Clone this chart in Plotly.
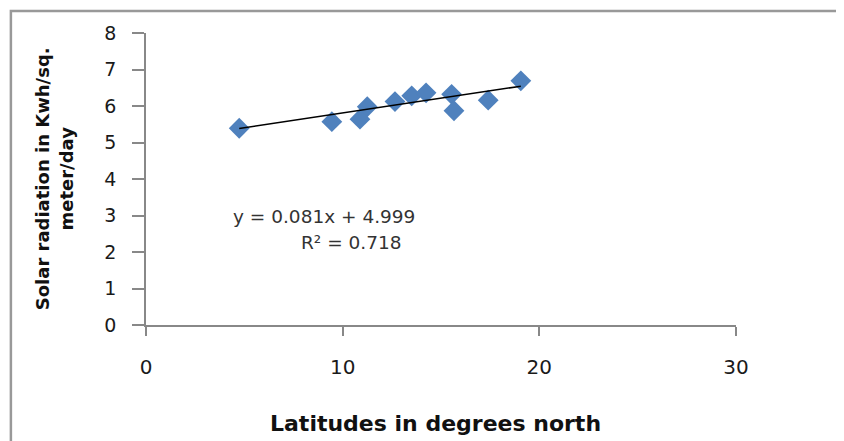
import plotly.graph_objects as go

# Data
latitude = [4.74, 9.45, 10.88, 11.25, 12.66, 13.51, 14.24, 15.54, 15.66, 17.40, 19.06]
radiation = [5.39, 5.57, 5.64, 5.98, 6.12, 6.28, 6.36, 6.32, 5.87, 6.16, 6.69]
slope = 0.081
intercept = 4.999
r_squared = 0.718
x_ticks = [0, 10, 20, 30]
y_ticks = [0, 1, 2, 3, 4, 5, 6, 7, 8]

trend_x = [min(latitude), max(latitude)]
trend_y = [slope * v + intercept for v in trend_x]

font_family = "DejaVu Sans, sans-serif"

fig = go.Figure()
fig.add_trace(go.Scatter(
    x=latitude, y=radiation, mode="markers",
    marker=dict(symbol="diamond", size=16, color="#4F81BD"),
    showlegend=False, cliponaxis=False,
))
fig.add_trace(go.Scatter(
    x=trend_x, y=trend_y, mode="lines",
    line=dict(color="#000000", width=1.5),
    showlegend=False,
))

# page has an 8px body margin, so margins are offset to place the plot area
fig.update_layout(
    width=844, height=441,
    margin=dict(l=138, r=116, t=25, b=124, autoexpand=False),
    paper_bgcolor="white", plot_bgcolor="white",
    font=dict(family=font_family, color="#222222"),
)
fig.update_xaxes(
    range=[0, 30], tickvals=x_ticks, showgrid=False, zeroline=False,
    showline=True, linecolor="#888888", linewidth=1.5,
    ticks="outside", ticklen=9, tickcolor="#888888", tickwidth=1.5,
    ticklabelstandoff=14, automargin=False,
    tickfont=dict(size=20, color="#1a1a1a"),
)
fig.update_yaxes(
    range=[0, 8], tickvals=y_ticks, showgrid=False, zeroline=False,
    showline=True, linecolor="#888888", linewidth=1.5,
    ticks="outside", ticklen=12, tickcolor="#888888", tickwidth=1.5,
    ticklabelstandoff=12, automargin=False,
    tickfont=dict(size=19, color="#1a1a1a"),
)

# small extension of the vertical axis below the origin
fig.add_shape(
    type="line", xref="x", yref="paper", x0=0, x1=0, y0=0, y1=-0.031,
    line=dict(color="#888888", width=1.5),
)

# Axis titles
fig.add_annotation(
    x=0.49, y=-0.339, xref="paper", yref="paper", xanchor="center", yanchor="middle",
    text="<b>Latitudes in degrees north</b>", showarrow=False,
    font=dict(size=22, color="#111111", family=font_family),
)
fig.add_annotation(
    x=-0.1555, y=0.5, xref="paper", yref="paper", xanchor="center", yanchor="middle",
    textangle=-90,
    text="<b>Solar radiation in Kwh/sq.<br>meter/day</b>", showarrow=False,
    font=dict(size=18, color="#111111", family=font_family),
)

# Trendline equation
fig.add_annotation(
    x=0.302, y=0.370, xref="paper", yref="paper", xanchor="center", yanchor="middle",
    text=f"y = {slope}x + {intercept}", showarrow=False,
    font=dict(size=18.5, color="#333333", family=font_family),
)
fig.add_annotation(
    x=0.349, y=0.281, xref="paper", yref="paper", xanchor="center", yanchor="middle",
    text=f"R² = {r_squared}", showarrow=False,
    font=dict(size=18.5, color="#333333", family=font_family),
)

fig.add_shape(
    type="rect", xref="paper", yref="paper",
    x0=-0.229, x1=1.2, y0=-0.45, y1=1.075,
    line=dict(color="#999999", width=2.5), fillcolor="rgba(0,0,0,0)", layer="below",
)

fig.write_html("out.html")
